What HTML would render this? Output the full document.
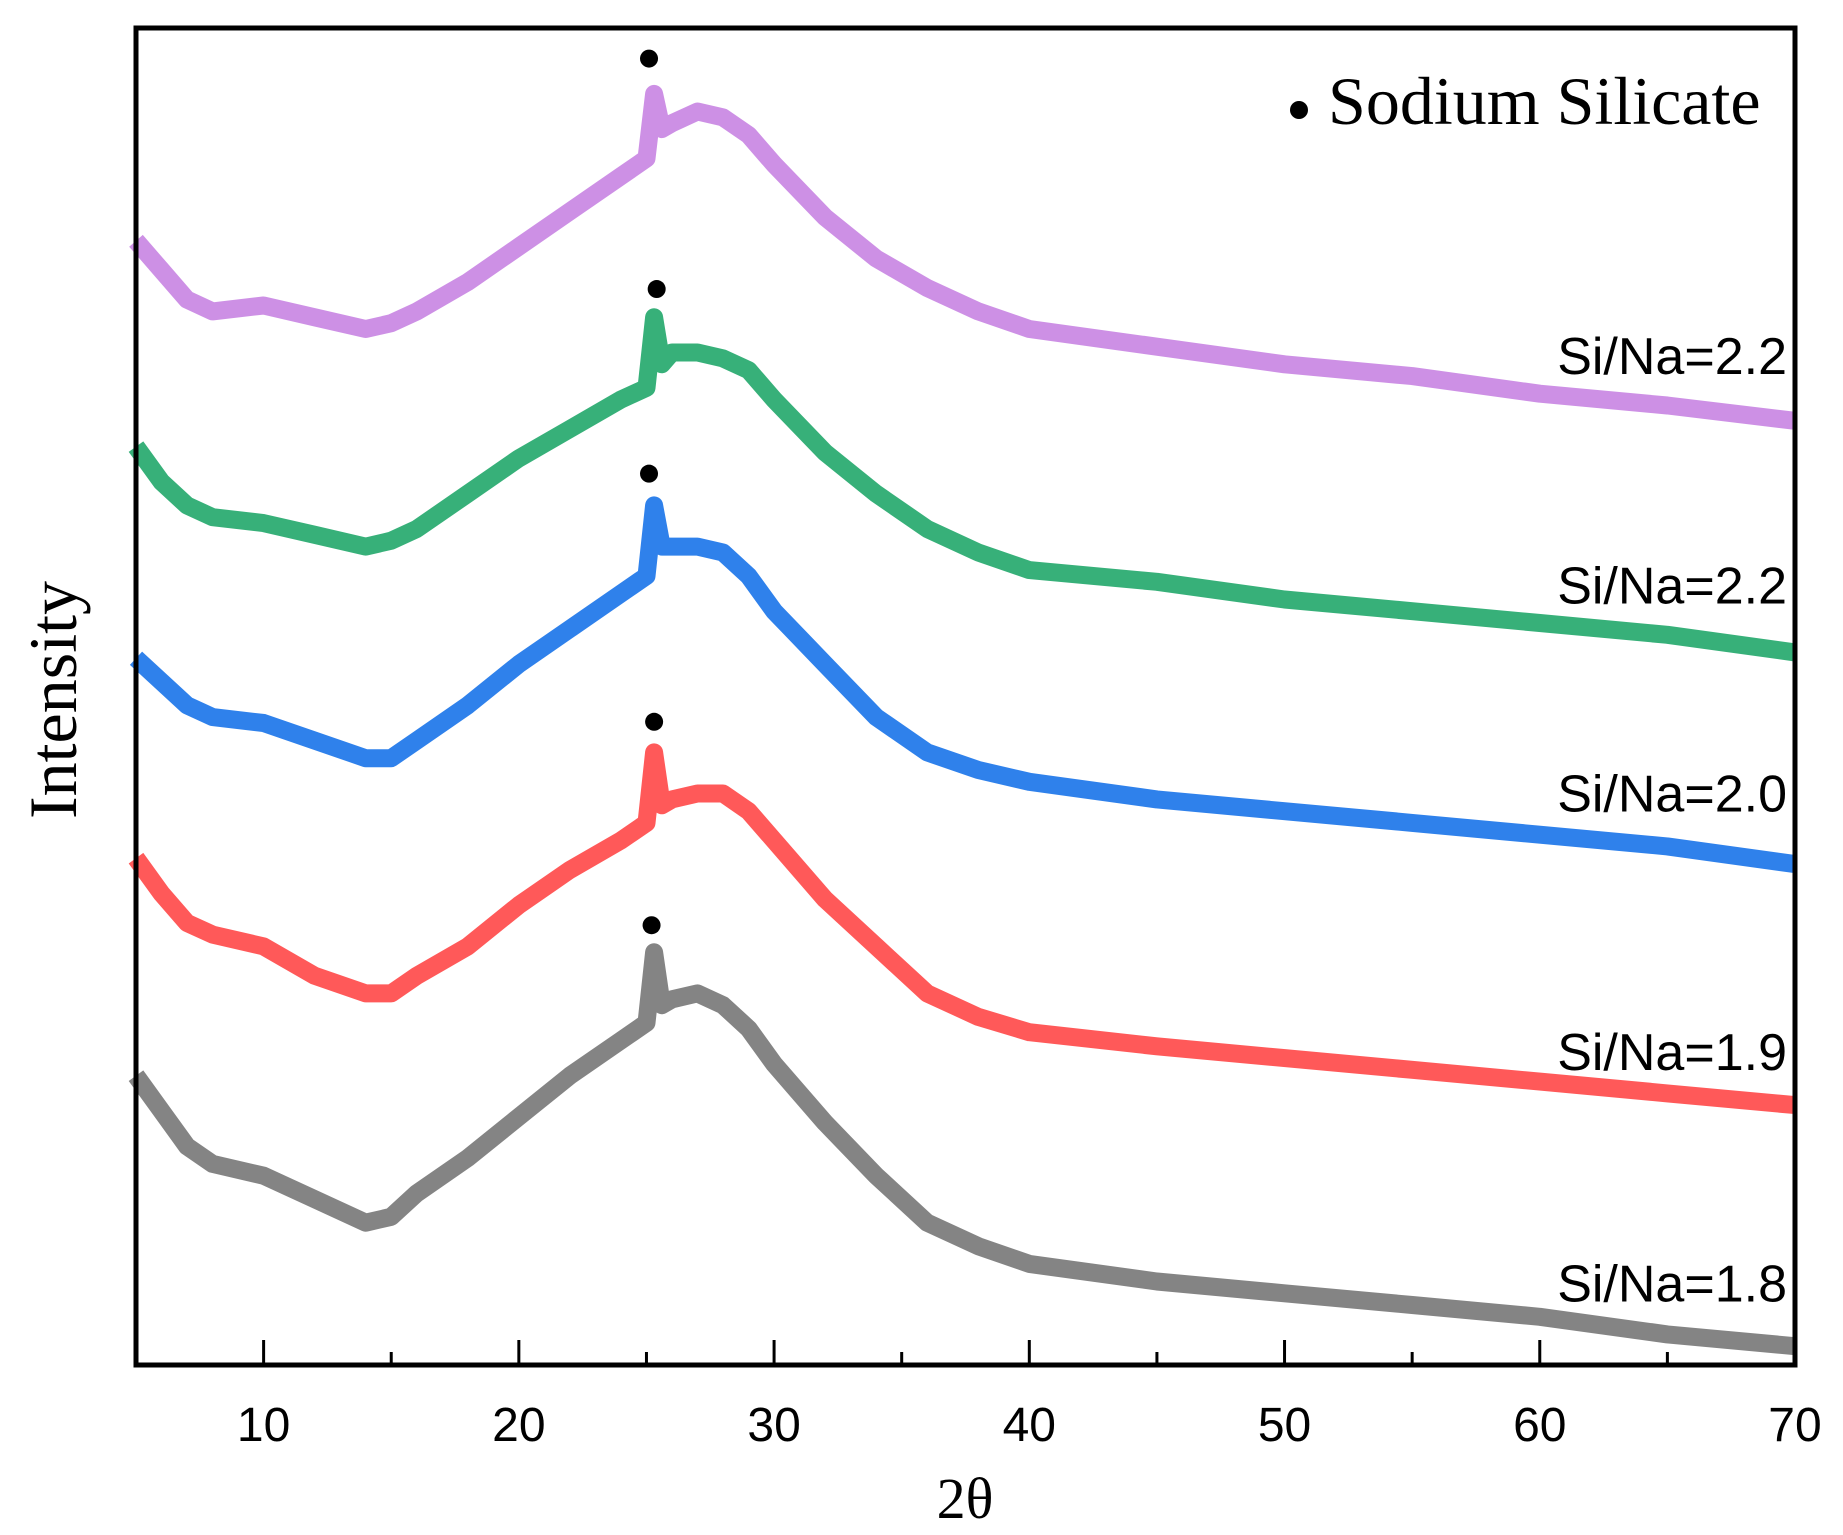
<!DOCTYPE html>
<html><head><meta charset="utf-8"><style>
html,body{margin:0;padding:0;background:#fff;}
svg{display:block;}
</style></head><body>
<svg id="chart" width="1843" height="1535" viewBox="0 0 1843 1535" xmlns="http://www.w3.org/2000/svg">
<rect x="0" y="0" width="1843" height="1535" fill="#fff"/>
<g id="series"></g>
<g id="dots"></g>
<rect x="136" y="28" width="1659" height="1337" fill="none" stroke="#000" stroke-width="5"/>
<g id="xticks"></g>
<text x="965" y="1518" font-family="Liberation Serif, serif" font-size="58" text-anchor="middle">2θ</text>
<text transform="translate(76,700) rotate(-90)" font-family="Liberation Serif, serif" font-size="68" text-anchor="middle">Intensity</text>
<circle cx="1299" cy="110" r="9" fill="#000"/>
<text x="1328" y="124" font-family="Liberation Serif, serif" font-size="68">Sodium Silicate</text>
<g id="labels" font-family="Liberation Sans, sans-serif" font-size="52" text-anchor="end"></g>
</svg>
<script>
const xs=[5,6,7,8,10,12,14,15,16,18,20,22,24,25,25.3,25.6,26,27,28,29,30,32,34,36,38,40,45,50,55,60,65,70];
const yGray=[915,945,975,990,1000,1020,1040,1035,1015,985,950,915,885,870,810,855,850,845,855,875,905,955,1000,1040,1060,1075,1090,1100,1110,1120,1135,1145];
const yRed=[730,760,785,795,805,830,845,845,830,805,770,740,715,700,640,685,680,675,675,690,715,765,805,845,865,878,890,900,910,920,930,940];
const yBlue=[560,580,600,610,615,630,645,645,630,600,565,535,505,490,430,465,465,465,470,490,520,565,610,640,655,665,680,690,700,710,720,735];
const yGreen=[380,410,430,440,445,455,465,460,450,420,390,365,340,330,270,310,300,300,305,315,340,385,420,450,470,485,495,510,520,530,540,555];
const yPurple=[205,230,255,265,260,270,280,275,265,240,210,180,150,135,80,110,105,95,100,115,140,185,220,245,265,280,295,310,320,335,345,358];
const seriesNames=["Si/Na=1.8","Si/Na=1.9","Si/Na=2.0","Si/Na=2.2","Si/Na=2.2"];
const seriesColors=["#6f6f6f","#ff3c3c","#0a6be8","#14a262","#c47ce0"];
const peakX=[25.2,25.3,25.1,25.4,25.1];
const peakY=[787,614,403,246,50];
const labelY=[1097,900,680,503,308];
const xTicks=[10,20,30,40,50,60,70];
const xMinor=[15,25,35,45,55,65];
const toVal=a=>a.map(v=>1161-v);
const allY=[yGray,yRed,yBlue,yGreen,yPurple].map(toVal);
const X=v=>136+(v-5)*(1659/65);
const Y=v=>1365-v*(1337/1137);
const svgNS="http://www.w3.org/2000/svg";
const sg=document.getElementById('series');
allY.forEach((ys,i)=>{
  let d=xs.map((x,j)=>(j?'L':'M')+X(x).toFixed(1)+','+Y(ys[j]).toFixed(1)).join(' ');
  const p=document.createElementNS(svgNS,'path');
  p.setAttribute('d',d);p.setAttribute('fill','none');p.setAttribute('stroke',seriesColors[i]);
  p.setAttribute('stroke-width','18');p.setAttribute('stroke-linejoin','round');p.setAttribute('opacity','0.85');
  
  
  sg.appendChild(p);
  const c=document.createElementNS(svgNS,'circle');
  c.setAttribute('cx',X(peakX[i]));c.setAttribute('cy',Y(1161-peakY[i]));c.setAttribute('r','9');c.setAttribute('fill','#000');
  
  
  document.getElementById('dots').appendChild(c);
  const t=document.createElementNS(svgNS,'text');
  t.setAttribute('x','1787');t.setAttribute('y',Y(1161-labelY[i])+12);t.textContent=seriesNames[i];
  
  
  document.getElementById('labels').appendChild(t);
});
const xt=document.getElementById('xticks');
xTicks.forEach(v=>{
  const l=document.createElementNS(svgNS,'line');
  l.setAttribute('x1',X(v));l.setAttribute('x2',X(v));l.setAttribute('y1',1365);l.setAttribute('y2',1340);
  l.setAttribute('stroke','#000');l.setAttribute('stroke-width','3');
  
  
  xt.appendChild(l);
  const t=document.createElementNS(svgNS,'text');
  t.setAttribute('x',X(v));t.setAttribute('y',1441);t.setAttribute('text-anchor','middle');
  t.setAttribute('font-family','Liberation Sans, sans-serif');t.setAttribute('font-size','48');t.textContent=v;
  
  
  xt.appendChild(t);
});
xMinor.forEach(v=>{
  const l=document.createElementNS(svgNS,'line');
  l.setAttribute('x1',X(v));l.setAttribute('x2',X(v));l.setAttribute('y1',1365);l.setAttribute('y2',1352);
  l.setAttribute('stroke','#000');l.setAttribute('stroke-width','3');
  
  
  xt.appendChild(l);
});
</script>
</body></html>
